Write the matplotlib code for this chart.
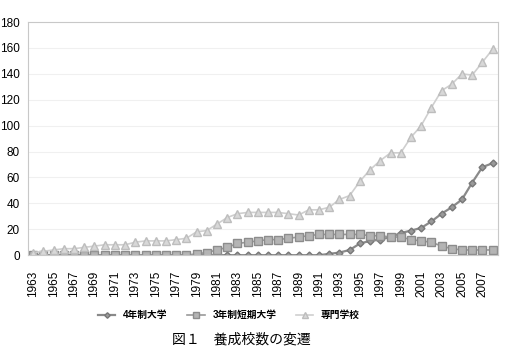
import matplotlib.pyplot as plt

plt.rcParams['font.family'] = ['Liberation Sans', 'Noto Sans CJK JP']

years = list(range(1963, 2009))

# 4年制大学
univ = [0, 0, 0, 0, 0, 0, 0, 0, 0, 0,
        0, 0, 0, 0, 0, 0, 0, 0, 0, 0,
        0, 0, 0, 0, 0, 0, 0, 0, 0, 1,
        2, 4, 9, 11, 12, 14, 17, 19, 21, 26,
        32, 37, 43, 56, 68, 71]
# 3年制短期大学
junior = [0, 0, 0, 0, 0, 0, 0, 0, 0, 0,
          0, 0, 0, 0, 0, 0, 1, 2, 4, 6,
          9, 10, 11, 12, 12, 13, 14, 15, 16, 16,
          16, 16, 16, 15, 15, 14, 14, 12, 11, 10,
          7, 5, 4, 4, 4, 4]
# 専門学校
vocational = [2, 3, 4, 5, 5, 6, 7, 8, 8, 8,
              10, 11, 11, 11, 12, 13, 18, 19, 24, 29,
              32, 33, 33, 33, 33, 32, 31, 35, 35, 37,
              43, 46, 57, 66, 73, 79, 79, 91, 100, 114,
              127, 132, 140, 139, 149, 159]

labels = ['4年制大学', '3年制短期大学', '専門学校']

x = list(range(len(years)))

fig = plt.figure(figsize=(5.11, 3.5), dpi=100)
ax = fig.add_axes([0.055, 0.271, 0.919, 0.666])

ax.plot(x, univ, color='#8a8a8a', lw=1.6, marker='D', markersize=3.5,
        markerfacecolor='#9a9a9a', markeredgecolor='#777777', label=labels[0])
ax.plot(x, junior, color='#9a9a9a', lw=1.2, marker='s', markersize=6,
        markerfacecolor='#b4b4b4', markeredgecolor='#8c8c8c', label=labels[1])
ax.plot(x, vocational, color='#cfcfcf', lw=1.2, marker='^', markersize=6,
        markerfacecolor='#d8d8d8', markeredgecolor='#bdbdbd', label=labels[2])

ax.set_xlim(-0.5, len(years) - 0.5)
ax.set_ylim(0, 180)
ax.set_yticks(range(0, 181, 20))
ax.set_xticks(x[::2])
ax.set_xticklabels([str(y) for y in years[::2]], rotation=90, fontsize=8.5)
ax.tick_params(axis='y', labelsize=8.5, length=0, pad=6)
ax.tick_params(axis='x', length=0, pad=11)
ax.yaxis.grid(True, color='#f0f0f0', lw=0.8)
ax.set_axisbelow(True)
for s in ax.spines.values():
    s.set_color('#c8c8c8')
    s.set_linewidth(0.8)

fig.legend(loc='center', bbox_to_anchor=(0.448, 0.1), ncol=3,
           frameon=False, handlelength=1.8, handletextpad=0.8,
           columnspacing=2.0, markerscale=0.8,
           prop={'weight': 'bold', 'size': 7})

fig.text(0.472, 0.029, '図１　養成校数の変遷', ha='center', va='center',
         fontsize=10)

fig.savefig('out.png')
